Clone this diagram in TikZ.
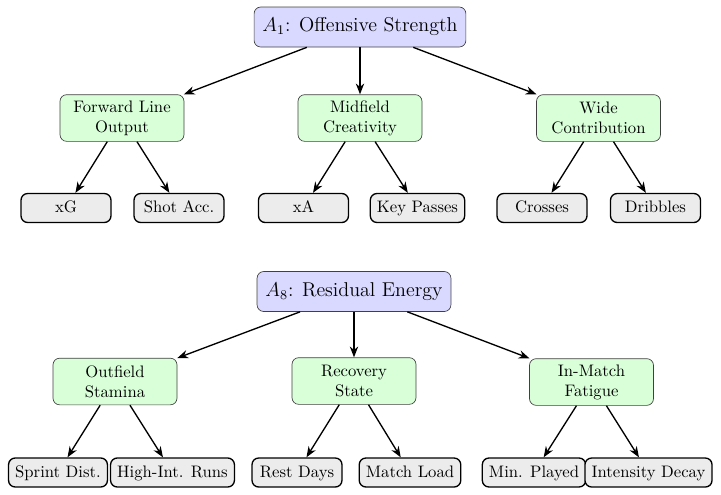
\documentclass[tikz,border=0pt]{standalone}
\usetikzlibrary{arrows.meta}
\begin{document}
\begin{tikzpicture}[x=0.6pt,y=-0.6pt,
  rootbox/.style={draw=black!75,fill=blue!15,rounded corners=4pt,font=\large,inner xsep=5pt,minimum height=24pt},
  midbox/.style={draw=black!75,fill=green!15,rounded corners=4pt,align=center,minimum width=74.4pt,minimum height=28pt,inner sep=2pt},
  leafbox/.style={draw=black,thick,fill=gray!15,rounded corners=4pt,minimum width=54pt,minimum height=17.4pt,inner xsep=4pt,inner ysep=2pt,text height=1.6ex,text depth=0.3ex},
  link/.style={-{Stealth[length=6.5pt,width=5pt]},thick}]
\useasboundingbox (0,0) rectangle (721,494);
% top tree
\node[rootbox] (a1) at (360,27) {$A_1$: Offensive Strength};
\node[midbox] (fl) at (122,118) {Forward Line\\Output};
\node[midbox] (mc) at (360,118) {Midfield\\Creativity};
\node[midbox] (wc) at (598.5,118) {Wide\\Contribution};
\node[leafbox] (xg) at (66,208) {xG};
\node[leafbox] (sa) at (179,208) {Shot Acc.};
\node[leafbox] (xa) at (303.5,208) {xA};
\node[leafbox] (kp) at (417.5,208) {Key Passes};
\node[leafbox] (cr) at (542,208) {Crosses};
\node[leafbox] (dr) at (655.5,208) {Dribbles};
\draw[link] (a1) -- (fl);
\draw[link] (a1) -- (mc);
\draw[link] (a1) -- (wc);
\draw[link] (fl) -- (xg);
\draw[link] (fl) -- (sa);
\draw[link] (mc) -- (xa);
\draw[link] (mc) -- (kp);
\draw[link] (wc) -- (cr);
\draw[link] (wc) -- (dr);
% bottom tree
\node[rootbox] (a8) at (354,291.5) {$A_8$: Residual Energy};
\node[midbox] (os) at (115,381.5) {Outfield\\Stamina};
\node[midbox] (rs) at (354,381) {Recovery\\State};
\node[midbox] (im) at (591.5,382) {In-Match\\Fatigue};
\node[leafbox] (sd) at (58,472.5) {Sprint Dist.};
\node[leafbox] (hr) at (172.5,472.5) {High-Int. Runs};
\node[leafbox] (rd) at (297,472.5) {Rest Days};
\node[leafbox] (ml) at (410,472.5) {Match Load};
\node[leafbox] (mp) at (534,472.5) {Min. Played};
\node[leafbox] (id) at (648.5,472.5) {Intensity Decay};
\draw[link] (a8) -- (os);
\draw[link] (a8) -- (rs);
\draw[link] (a8) -- (im);
\draw[link] (os) -- (sd);
\draw[link] (os) -- (hr);
\draw[link] (rs) -- (rd);
\draw[link] (rs) -- (ml);
\draw[link] (im) -- (mp);
\draw[link] (im) -- (id);
\end{tikzpicture}
\end{document}
